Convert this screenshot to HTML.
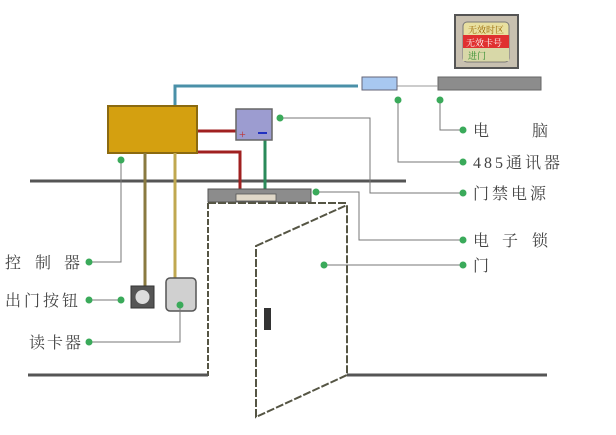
<!DOCTYPE html>
<html><head><meta charset="utf-8"><style>
html,body{margin:0;padding:0;background:#fff;}
svg{display:block;}
text{font-family:"Liberation Serif","Noto Serif CJK SC",serif;font-size:16px;fill:#444;}
</style></head><body>
<svg width="616" height="435" viewBox="0 0 616 435" xmlns="http://www.w3.org/2000/svg">
<rect x="455" y="15" width="63" height="53" fill="#c8c0b0" stroke="#555" stroke-width="2"/>
<rect x="463" y="22" width="46" height="40" rx="4" fill="#e8e0a0" stroke="#777"/>
<rect x="463" y="35" width="46" height="13" fill="#e03030"/>
<rect x="463" y="48" width="46" height="13" fill="#d8d8a8"/>
<text x="468" y="33" style="font-size:9px;fill:#996600">无效时区</text>
<text x="466" y="46" style="font-size:9px;fill:#fff">无效卡号</text>
<text x="468" y="59" style="font-size:9px;fill:#2a8a2a">进门</text>
<rect x="438" y="77" width="103" height="13" fill="#8c8c8c" stroke="#666"/>
<line x1="397" y1="86" x2="438" y2="86" stroke="#999" stroke-width="1"/>
<rect x="362" y="77" width="35" height="13" fill="#a8c8f0" stroke="#667"/>
<polyline points="175,106 175,86 358,86" fill="none" stroke="#4a90a8" stroke-width="3"/>
<line x1="30" y1="181" x2="406" y2="181" stroke="#555" stroke-width="3"/>
<line x1="197" y1="131" x2="236" y2="131" stroke="#a02020" stroke-width="3"/>
<polyline points="197,152 240,152 240,189" fill="none" stroke="#a02020" stroke-width="3"/>
<line x1="265" y1="140" x2="265" y2="189" stroke="#2a8a5a" stroke-width="3"/>
<rect x="108" y="106" width="89" height="47" fill="#d4a010" stroke="#8b6a10" stroke-width="2"/>
<rect x="236" y="109" width="36" height="31" fill="#9c9cd0" stroke="#666" stroke-width="1.5"/>
<text x="239" y="138" style="font-size:12px;fill:#c03030">+</text>
<line x1="258" y1="133" x2="267" y2="133" stroke="#2030c0" stroke-width="2"/>
<line x1="145" y1="153" x2="145" y2="288" stroke="#8a7a40" stroke-width="3"/>
<line x1="175" y1="153" x2="175" y2="280" stroke="#c0a850" stroke-width="3"/>
<rect x="208" y="189" width="103" height="13" fill="#8c8c8c" stroke="#555"/>
<rect x="236" y="194" width="40" height="7" fill="#e0d8c8" stroke="#555" stroke-width="0.8"/>
<line x1="208" y1="203" x2="208" y2="376" stroke="#554" stroke-width="2" stroke-dasharray="6,2"/>
<line x1="208" y1="203" x2="347" y2="203" stroke="#554" stroke-width="2" stroke-dasharray="8,2"/>
<line x1="28" y1="375" x2="208" y2="375" stroke="#555" stroke-width="3"/>
<line x1="347" y1="375" x2="547" y2="375" stroke="#555" stroke-width="3"/>
<polygon points="256,246 347,205 347,375 256,417" fill="#fff" stroke="#554" stroke-width="2" stroke-dasharray="8,2"/>
<rect x="264" y="308" width="7" height="22" fill="#333"/>
<rect x="131" y="286" width="23" height="22" fill="#555" stroke="#333"/>
<circle cx="142.5" cy="297" r="7" fill="#ddd"/>
<rect x="166" y="278" width="30" height="33" rx="4" fill="#d0d0d0" stroke="#555" stroke-width="1.5"/>
<g fill="none" stroke="#777" stroke-width="1">
<polyline points="440,100 440,130 463,130"/>
<polyline points="398,100 398,162 463,162"/>
<polyline points="280,118 370,118 370,193 463,193"/>
<polyline points="316,192 359,192 359,240 463,240"/>
<polyline points="324,265 463,265"/>
<polyline points="121,160 121,262 89,262"/>
<polyline points="121,300 89,300"/>
<polyline points="180,305 180,342 89,342"/>
</g>
<g fill="#3aaa5a">
<circle cx="440" cy="100" r="3.5"/><circle cx="398" cy="100" r="3.5"/><circle cx="280" cy="118" r="3.5"/>
<circle cx="316" cy="192" r="3.5"/><circle cx="324" cy="265" r="3.5"/><circle cx="121" cy="160" r="3.5"/>
<circle cx="121" cy="300" r="3.5"/><circle cx="180" cy="305" r="3.5"/>
<circle cx="463" cy="130" r="3.5"/><circle cx="463" cy="162" r="3.5"/><circle cx="463" cy="193" r="3.5"/>
<circle cx="463" cy="240" r="3.5"/><circle cx="463" cy="265" r="3.5"/>
<circle cx="89" cy="262" r="3.5"/><circle cx="89" cy="300" r="3.5"/><circle cx="89" cy="342" r="3.5"/>
</g>
<text x="473" y="136">电</text><text x="532" y="136">脑</text>
<text x="473" y="168" style="letter-spacing:3px">485通讯器</text>
<text x="473" y="199" style="letter-spacing:3px">门禁电源</text>
<text x="473" y="246">电</text><text x="502" y="246">子</text><text x="532" y="246">锁</text>
<text x="473" y="271">门</text>
<text x="5" y="268">控</text><text x="35" y="268">制</text><text x="64" y="268">器</text>
<text x="5" y="306" style="letter-spacing:3px">出门按钮</text>
<text x="29" y="348" style="letter-spacing:2px">读卡器</text>
</svg>
</body></html>
